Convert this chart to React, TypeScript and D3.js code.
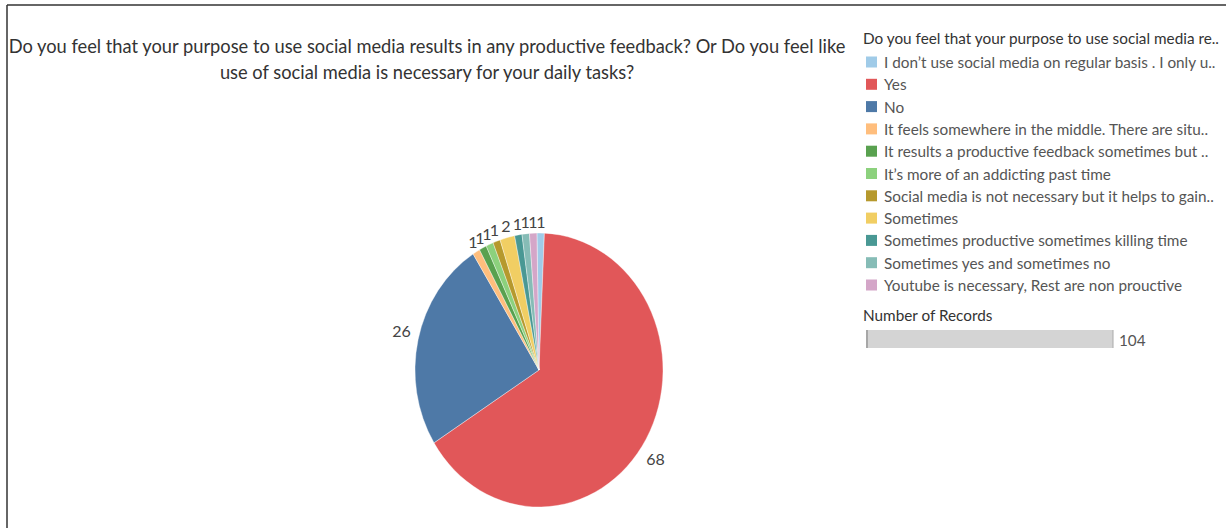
import React from "react";
import * as d3 from "d3";

const categories: string[] = [
  "I don\u2019t use social media on regular basis . I only u..",
  "Yes",
  "No",
  "It feels somewhere in the middle. There are situ..",
  "It results  a productive feedback sometimes but ..",
  "It\u2019s more of an addicting past time",
  "Social media is not necessary but it helps to gain..",
  "Sometimes",
  "Sometimes productive sometimes killing time",
  "Sometimes yes and sometimes no",
  "Youtube is necessary, Rest are non prouctive",
];
const counts: number[] = [1, 68, 26, 1, 1, 1, 1, 2, 1, 1, 1];
const colors: string[] = [
  "#a0cbe8", "#e15759", "#4e79a7", "#ffbe7d", "#59a14f", "#8cd17d",
  "#b6992d", "#f1ce63", "#499894", "#86bcb6", "#d4a6c8",
];
const titleLines: string[] = [
  "Do you feel that your purpose to use social media results in any productive feedback? Or Do you feel like",
  "use of social media is necessary for your daily tasks?",
];
const legendTitle = "Do you feel that your purpose to use social media re..";
const sizeTitle = "Number of Records";

const W = 1226, H = 528;
const FONT = "Lato, 'Open Sans', sans-serif";

export default function App() {
  const total = d3.sum(counts);
  const rot = (2.5 * Math.PI) / 180;
  const offset = (-counts[0] / total) * 2 * Math.PI + rot;
  const pie = d3.pie<number>().sort(null).value((d) => d)
    .startAngle(offset).endAngle(offset + 2 * Math.PI);
  const arcs = pie(counts);
  const cx = 539, cy = 370, ry = 137, rx = 124;
  const sx = rx / ry;
  const arcGen = d3.arc<d3.PieArcDatum<number>>().innerRadius(0).outerRadius(ry);

  const labelPos = (a: d3.PieArcDatum<number>, big: boolean) => {
    const ang = a.startAngle + 0.52 * (a.endAngle - a.startAngle);
    const s = Math.sin(ang), c = Math.cos(ang);
    const pad = big ? 10 : 5;
    const hw = big ? 8 : 2;
    const hh = 7;
    return [cx + (rx + pad) * s + hw * s, cy - (ry + pad) * c - hh * c];
  };

  const sizeScale = d3.scaleLinear().domain([0, total]).range([0, 247]);
  const rowY = d3.scaleLinear().domain([0, 1]).range([62, 84.3]);

  return (
    <div style={{ position: "absolute", left: 0, top: 0 }}>
      <svg width={W} height={H} style={{ display: "block", fontFamily: FONT }}>
        <rect x={0} y={0} width={W} height={H} fill="#fff" />
        <line x1={7} y1={5} x2={W} y2={5} stroke="#333" strokeWidth={1.5} />
        <line x1={7} y1={5} x2={7} y2={H} stroke="#333" strokeWidth={1.5} />
        {titleLines.map((t, i) => (
          <text key={i} x={427} y={53 + i * 26} textAnchor="middle" fontSize={18.3} fill="#333">
            {t}
          </text>
        ))}
        <g transform={`translate(${cx},${cy}) scale(${sx},1)`}>
          {arcs.map((a, i) => (
            <path key={i} d={arcGen(a) || ""} fill={colors[i]} stroke="#fff" strokeWidth={0.4} />
          ))}
        </g>
        {arcs.map((a, i) => {
          const big = counts[i] > 5;
          const [x, y] = labelPos(a, big);
          return (
            <text key={i} x={x} y={y} textAnchor="middle" dominantBaseline="central" fontSize={16} fill="#444">
              {counts[i]}
            </text>
          );
        })}
        <text x={863} y={44} fontSize={15.3} fill="#333">{legendTitle}</text>
        {categories.map((c, i) => (
          <g key={i}>
            <rect x={866} y={rowY(i) - 5.5} width={11} height={11} fill={colors[i]} />
            <text x={884} y={rowY(i)} dominantBaseline="central" fontSize={15.3} fill="#555">{c}</text>
          </g>
        ))}
        <text x={863} y={321} fontSize={15.3} fill="#333">{sizeTitle}</text>
        <rect x={866} y={330} width={sizeScale(total)} height={18} fill="#d4d4d4" />
        <line x1={867} y1={330} x2={867} y2={348} stroke="#999" strokeWidth={1.5} />
        <line x1={866 + sizeScale(total)} y1={330} x2={866 + sizeScale(total)} y2={348} stroke="#aaa" strokeWidth={1} />
        <text x={1119} y={340} dominantBaseline="central" fontSize={15.3} fill="#555">{total}</text>
      </svg>
    </div>
  );
}
